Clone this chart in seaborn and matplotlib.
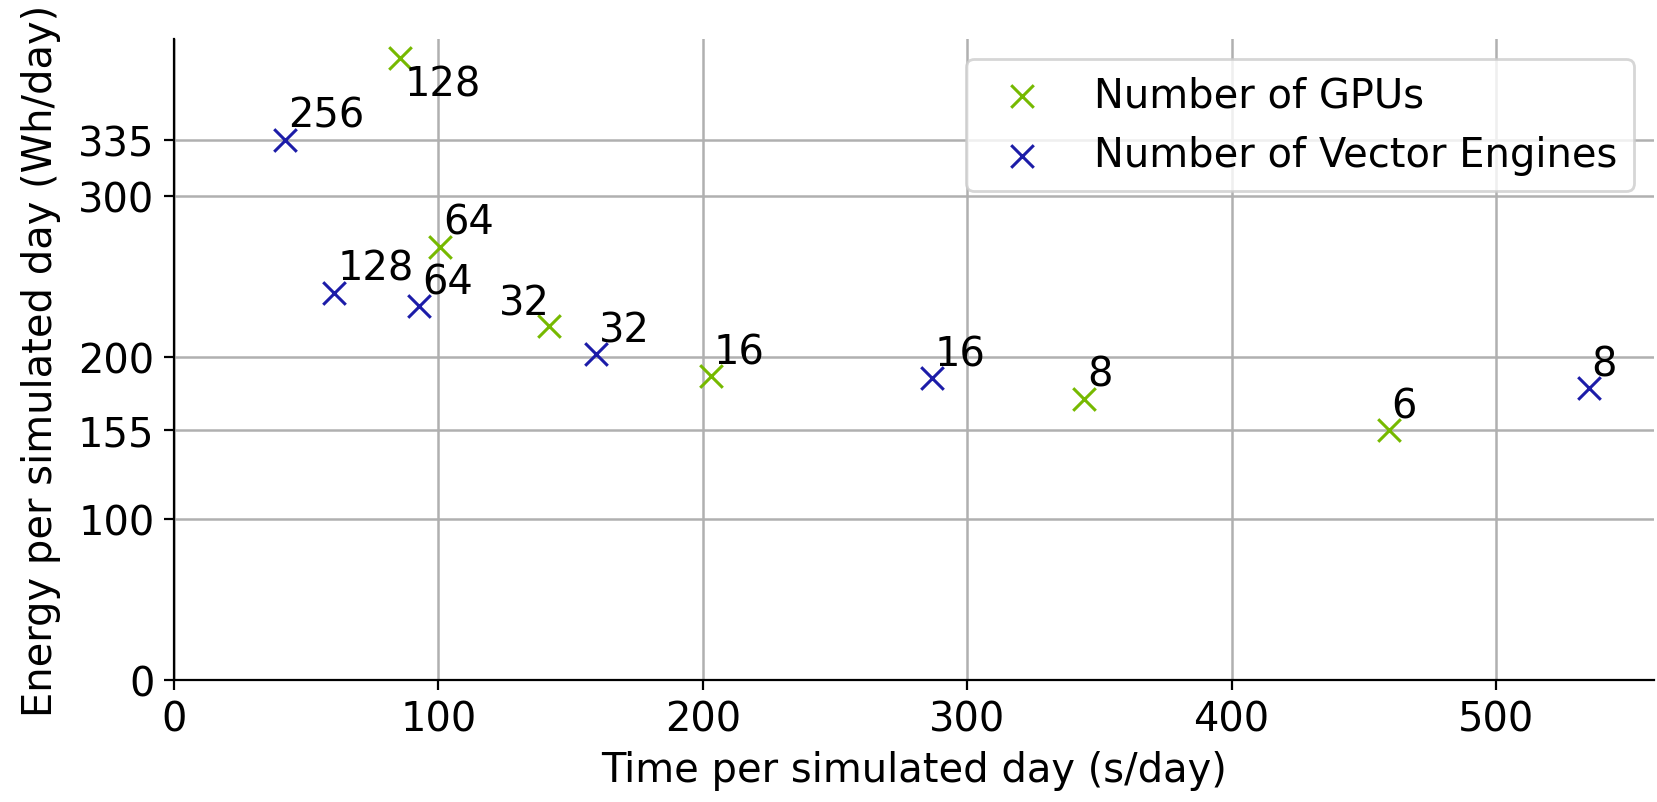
import pandas as pd
import matplotlib
matplotlib.use("Agg")
import matplotlib.pyplot as plt
import seaborn as sns

# GPU runs (time s/day, energy Wh/day, count)
gpu_time = [85.6, 100.8, 141.7, 203.0, 344.3, 459.5]
gpu_energy = [385.8, 268.7, 219.2, 188.6, 174.5, 155.0]
gpu_count = [128, 64, 32, 16, 8, 6]

# Vector Engine runs
ve_time = [42.0, 60.7, 92.8, 159.6, 286.8, 535.0]
ve_energy = [335.0, 240.2, 231.9, 202.2, 187.2, 180.8]
ve_count = [256, 128, 64, 32, 16, 8]

y_ticks = [0, 100, 155, 200, 300, 335]

df = pd.concat([
    pd.DataFrame({"time": gpu_time, "energy": gpu_energy, "n": gpu_count, "kind": "Number of GPUs"}),
    pd.DataFrame({"time": ve_time, "energy": ve_energy, "n": ve_count, "kind": "Number of Vector Engines"}),
], ignore_index=True)

colors = {"Number of GPUs": "#76b900", "Number of Vector Engines": "#1c1ca8"}

# label offsets in points, default is up-right of the marker
offsets = {("Number of GPUs", 128): (1.7, -13.5), ("Number of GPUs", 32): (-18, 4.4)}

plt.rcParams["font.family"] = ["DejaVu Sans"]
fs = 14.4

fig, ax = plt.subplots(figsize=(8.285, 4.015), dpi=200)
fig.subplots_adjust(left=0.105, right=0.998, bottom=0.152, top=0.95)

for kind, grp in df.groupby("kind", sort=False):
    sns.scatterplot(data=grp, x="time", y="energy", marker="x", s=66, linewidth=1.1,
                    color=colors[kind], label=kind, ax=ax, zorder=3)
    for _, r in grp.iterrows():
        off = offsets.get((kind, r["n"]), (1, 4.6))
        ax.annotate(str(r["n"]), (r["time"], r["energy"]), xytext=off,
                    textcoords="offset points", fontsize=fs, zorder=4)

ax.set_xlim(left=0)
ax.set_ylim(bottom=0)
ax.set_yticks(y_ticks)
ax.grid(True, color="#b0b0b0", linewidth=0.9)
ax.set_axisbelow(True)
ax.tick_params(labelsize=fs)
ax.set_xlabel("Time per simulated day (s/day)", fontsize=fs)
ax.set_ylabel("Energy per simulated day (Wh/day)", fontsize=fs, labelpad=6)
ax.legend(loc="upper right", fontsize=fs)
sns.despine()

plt.savefig("out.png", dpi=200)
